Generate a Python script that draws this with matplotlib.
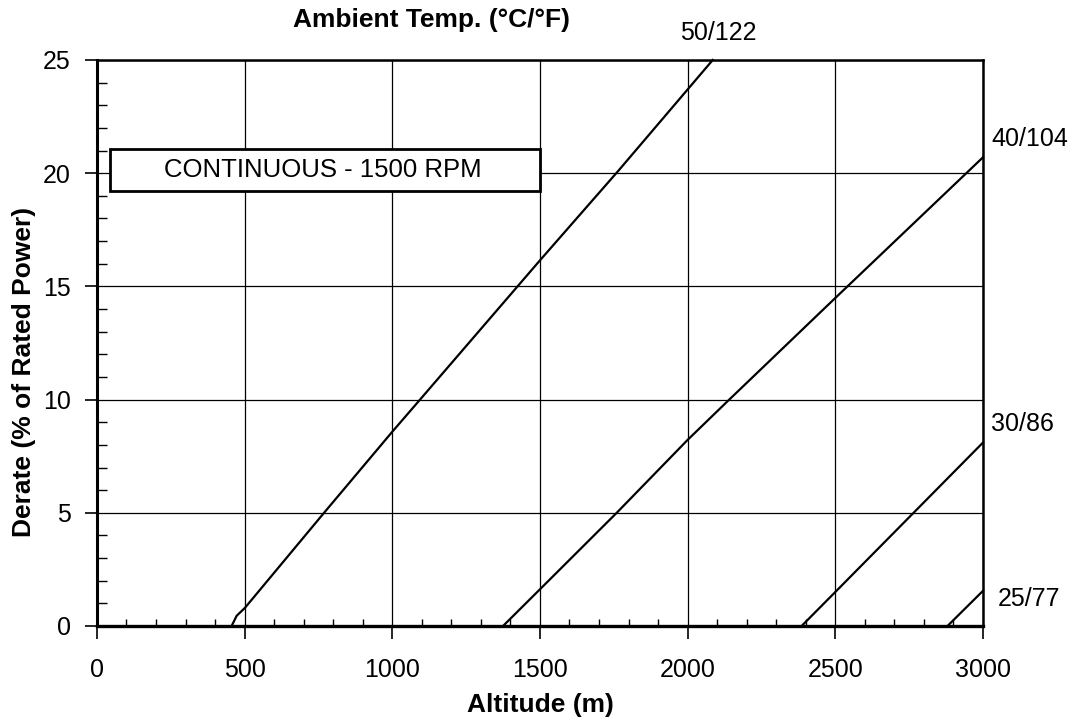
import matplotlib
matplotlib.use("Agg")
import matplotlib.pyplot as plt
from matplotlib.patches import Rectangle
from matplotlib.ticker import MultipleLocator

plt.rcParams['font.family'] = ['Liberation Sans', 'DejaVu Sans']

# derate curves, one per ambient temperature (altitude m, derate %)
alt_50 = [456, 473, 501, 769, 1000, 1094, 1500, 1765, 2085]
der_50 = [0.0, 0.45, 0.8, 5.0, 8.58, 10.0, 16.15, 20.1, 25.0]

alt_40 = [1375, 1500, 1760, 2000, 2141, 2493, 3000]
der_40 = [0.0, 1.62, 5.0, 8.22, 10.0, 14.4, 20.7]

alt_30 = [2386, 2500, 2750, 3000]
der_30 = [0.0, 1.5, 4.8, 8.1]

alt_25 = [2880, 3000]
der_25 = [0.0, 1.55]

temp_labels = ["50/122", "40/104", "30/86", "25/77"]

fig = plt.figure(figsize=(10.81, 7.22), dpi=100)
ax = fig.add_axes([0.0897, 0.133, 0.8196, 0.7839])

for xs, ys in [(alt_50, der_50), (alt_40, der_40), (alt_30, der_30), (alt_25, der_25)]:
    ax.plot(xs, ys, color='black', linewidth=1.6, clip_on=False, zorder=3)

ax.set_xlim(0, 3000)
ax.set_ylim(0, 25)
ax.xaxis.set_major_locator(MultipleLocator(500))
ax.xaxis.set_minor_locator(MultipleLocator(100))
ax.yaxis.set_major_locator(MultipleLocator(5))
ax.yaxis.set_minor_locator(MultipleLocator(1))
ax.grid(True, which='major', color='black', linewidth=0.9)

ax.tick_params(which='major', direction='out', length=9, width=1.2, labelsize=18, pad=10)
ax.tick_params(axis='x', which='major', pad=14)
ax.tick_params(which='minor', direction='in', length=7, width=1.0)
ax.tick_params(axis='x', which='minor', length=5)
for s in ax.spines.values():
    s.set_linewidth(1.8)
ax.spines['left'].set_linewidth(2.2)
ax.spines['bottom'].set_linewidth(2.4)

ax.set_xlabel('Altitude (m)', fontsize=19, fontweight='bold')
ax.xaxis.label.set_va('center')
ax.xaxis.set_label_coords(0.5, -0.1396)
ax.set_ylabel('Derate (% of Rated Power)', fontsize=19, fontweight='bold')
ax.yaxis.label.set_va('center')
ax.yaxis.set_label_coords(-0.0824, 0.449)
fig.text(0.3996, 0.972, 'Ambient Temp. (°C/°F)', fontsize=19, fontweight='bold',
         ha='center', va='center')

# curve labels
ax.text(2105, 26.2, temp_labels[0], fontsize=18, ha='center', va='center', clip_on=False)
ax.text(3027, 21.5, temp_labels[1], fontsize=18, ha='left', va='center', clip_on=False)
ax.text(3027, 8.9, temp_labels[2], fontsize=18, ha='left', va='center', clip_on=False)
ax.text(3050, 1.2, temp_labels[3], fontsize=18, ha='left', va='center', clip_on=False)

ax.add_patch(Rectangle((0.0147, 0.769), 0.4853, 0.0737, transform=ax.transAxes,
                       facecolor='white', edgecolor='black', linewidth=2, zorder=5))
ax.text(0.2545, 0.8056, 'CONTINUOUS - 1500 RPM', transform=ax.transAxes, fontsize=18.5,
        ha='center', va='center', zorder=6)

fig.savefig('out.png', dpi=100)
